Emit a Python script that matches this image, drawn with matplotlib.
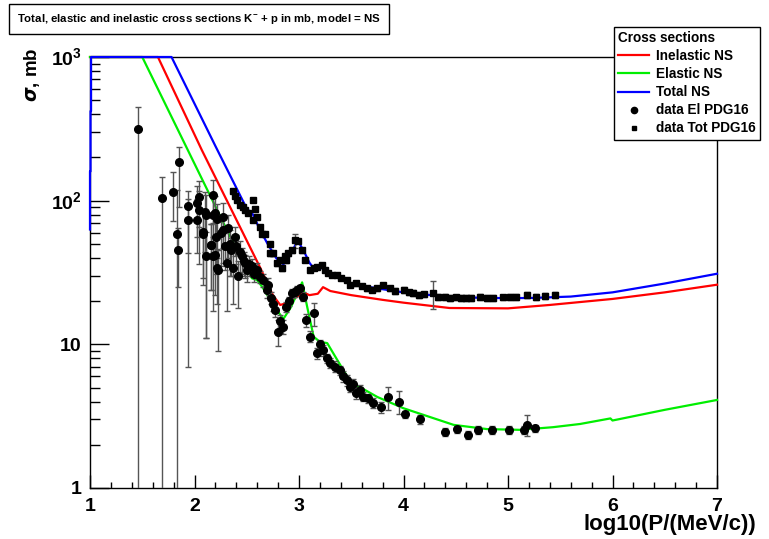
import numpy as np
import matplotlib
matplotlib.use("Agg")
import matplotlib.pyplot as plt
from matplotlib.lines import Line2D

plt.rcParams['font.family'] = ['Liberation Sans', 'DejaVu Sans']
plt.rcParams['font.weight'] = 'bold'
plt.rcParams['mathtext.fontset'] = 'custom'
plt.rcParams['mathtext.rm'] = 'Liberation Sans:bold'
plt.rcParams['mathtext.bf'] = 'Liberation Sans:bold'

# model curves (log10 P, sigma in mb)
total_x = [1.0, 1.0, 1.005, 1.005, 1.01, 1.01, 1.78, 2.2, 2.5, 2.56, 2.62, 2.7, 2.78, 2.85,
           2.92, 2.97, 3.0, 3.05, 3.1, 3.15, 3.22, 3.3, 3.5, 3.75, 4.0, 4.4, 4.8, 5.2, 5.6,
           6.0, 6.5, 7.0]
total_y = [63, 160, 160, 420, 420, 1000, 1000, 240, 88, 80, 64, 50, 40, 36,
           42, 50, 51, 44, 37, 33, 34, 30.5, 26.5, 24.5, 23, 21.5, 21, 21, 21.5,
           23, 26.5, 31]

inel_x = [1.0, 1.65, 2.07, 2.63, 2.75, 2.82, 2.9, 3.04, 3.1, 3.18, 3.23, 3.3, 3.5, 3.8,
          4.0, 4.44, 5.0, 5.4, 6.0, 6.5, 7.0]
inel_y = [1000, 1000, 225, 34, 22, 18.8, 19.5, 23, 22, 22.5, 25, 23.5, 22, 20.4,
          19.5, 17.9, 17.8, 18.8, 20.7, 23, 26]

el_x = [1.0, 1.5, 2.48, 2.55, 2.6, 2.65, 2.75, 2.85, 2.92, 3.0, 3.03, 3.08, 3.14, 3.2,
        3.27, 3.49, 3.75, 4.0, 4.48, 4.8, 5.11, 5.43, 5.69, 5.98, 6.0, 6.05, 6.5, 7.0]
el_y = [1000, 1000, 35, 28.8, 28, 25, 19, 15, 18, 24, 27, 18, 11.3, 10.4,
        10.2, 5.5, 4.3, 3.59, 2.75, 2.57, 2.54, 2.65, 2.79, 3.05, 2.95, 3.0, 3.5, 4.1]

# data El PDG16
del_x = [1.46, 1.69, 1.79, 1.835, 1.84, 1.855, 1.94, 1.94, 2.02, 2.02, 2.04, 2.04, 2.078,
         2.084, 2.10, 2.107, 2.107, 2.155, 2.158, 2.174, 2.174, 2.18, 2.196, 2.196, 2.21,
         2.212, 2.222, 2.22, 2.25, 2.276, 2.276, 2.29, 2.31, 2.32, 2.34, 2.35, 2.37, 2.39,
         2.40, 2.42, 2.435, 2.45, 2.47, 2.483, 2.50, 2.52, 2.547, 2.57, 2.595, 2.627, 2.66,
         2.69, 2.706, 2.73, 2.75, 2.77, 2.80, 2.82, 2.85, 2.88, 2.90, 2.93, 2.96, 2.98,
         3.01, 3.04, 3.07, 3.105, 3.14, 3.17, 3.2, 3.233, 3.27, 3.30, 3.34, 3.39, 3.42,
         3.456, 3.488, 3.52, 3.55, 3.58, 3.615, 3.66, 3.71, 3.78, 3.855, 3.96, 4.01, 4.16,
         4.40, 4.51, 4.615, 4.71, 4.85, 5.01, 5.15, 5.18, 5.26]
del_y = [314, 104, 114, 59, 45, 187, 92, 73, 96, 73, 106, 86, 59,
         61, 84, 79, 41, 49, 49, 79, 41, 110, 82, 42, 56,
         34, 33, 75, 60, 77, 62, 48, 37, 65, 50, 45, 34, 56,
         48, 30, 44, 41, 38, 37, 33, 36, 35, 31, 33, 29.6, 28,
         24, 26, 21, 19, 17.4, 12.2, 14.5, 13.3, 18.3, 20, 22.6, 23, 23.9,
         24.5, 21.5, 14.8, 11.3, 16.4, 8.7, 10, 9.1, 8.0, 7.4, 7.0, 6.6, 6.0,
         5.65, 5.08, 5.3, 4.57, 4.8, 4.33, 4.2, 3.9, 3.65, 4.27, 4.0, 3.26, 3.01,
         2.45, 2.56, 2.34, 2.54, 2.54, 2.54, 2.54, 2.75, 2.6]
del_lo = [313.5, 103.5, 42, 58.5, 20, 97, 85, 30, 40, 30, 40, 50, 30,
          35, 40, 68, 30, 25, 25, 40, 24, 40, 40, 20, 25,
          15, 24, 35, 25, 30, 25, 15, 20, 25, 20, 15, 15, 15,
          12, 12, 12, 10, 8, 8, 6, 6, 5, 4, 4, 3, 3,
          3, 3, 2, 2, 2, 2.5, 1.5, 1.5, 1.5, 1.5, 1.5, 1.5, 1.5,
          1.5, 1.5, 1.5, 1, 3, 0.8, 0.8, 0.8, 0.6, 0.6, 0.6, 0.5, 0.5,
          0.5, 0.4, 0.4, 0.4, 0.4, 0.3, 0.3, 0.3, 0.3, 0.8, 0.75, 0.2, 0.2,
          0.15, 0.15, 0.15, 0.15, 0.15, 0.15, 0.15, 0.45, 0.15]
del_hi = [133, 43, 44, 60, 20, 51, 25, 30, 30, 30, 31, 30, 25,
          25, 30, 30, 20, 20, 20, 25, 15, 30, 25, 15, 20,
          12, 12, 20, 20, 20, 15, 12, 12, 15, 12, 10, 10, 10,
          10, 8, 8, 6, 6, 5, 5, 5, 4, 4, 4, 3, 3,
          3, 3, 2, 2, 2, 2.5, 1.5, 1.5, 1.5, 1.5, 1.5, 1.5, 1.5,
          1.5, 1.5, 1.5, 1, 3, 0.8, 0.8, 0.8, 0.6, 0.6, 0.6, 0.5, 0.5,
          0.5, 0.4, 0.4, 0.4, 0.4, 0.3, 0.3, 0.3, 0.3, 0.8, 0.75, 0.2, 0.2,
          0.15, 0.15, 0.15, 0.15, 0.15, 0.15, 0.15, 0.45, 0.15]

# data Tot PDG16
dtot_x = [2.37, 2.39, 2.404, 2.435, 2.467, 2.48, 2.515, 2.56, 2.56, 2.58, 2.595, 2.627,
          2.643, 2.675, 2.72, 2.72, 2.754, 2.786, 2.818, 2.834, 2.866, 2.88, 2.897, 2.93,
          2.96, 2.99, 3.026, 3.057, 3.105, 3.14, 3.17, 3.217, 3.25, 3.28, 3.32, 3.36, 3.40,
          3.456, 3.488, 3.55, 3.60, 3.65, 3.70, 3.75, 3.807, 3.87, 3.92, 4.0, 4.05, 4.09,
          4.15, 4.2, 4.285, 4.33, 4.4, 4.445, 4.5, 4.55, 4.6, 4.65, 4.73, 4.8, 4.86, 4.95,
          5.02, 5.08, 5.18, 5.27, 5.35, 5.45]
dtot_y = [117, 108, 101, 94, 91, 86, 82, 101, 73, 88, 77, 66,
          59, 59, 50, 43, 43, 36.6, 38.6, 33.8, 41, 38.6, 43, 45,
          53, 52, 45, 38.6, 33, 34, 34.8, 35.7, 33, 31.2, 30.5, 30.4, 29,
          28, 25.9, 26.6, 25.5, 24.5, 24, 24.5, 25.9, 24.5, 23.5, 23.9, 23, 22.7,
          22, 22.3, 22.7, 21.5, 21.3, 20.9, 21.2, 21, 20.9, 21, 21.5, 21, 20.9, 21.2,
          21.5, 21.5, 22, 21.5, 21.8, 22]
dtot_err = [3, 3, 3, 3, 3, 3, 3, 3, 2, 3, 2, 2,
            2, 2, 1.5, 1.5, 1.5, 1.5, 1.5, 1.5, 1.5, 1.5, 1.5, 1.5,
            6, 1.5, 1.5, 1, 1, 1, 1, 1, 1, 1, 1, 1, 1,
            1, 1, 1, 1, 1, 1, 1, 1, 1, 1, 1, 1, 1,
            1, 1, 5, 1, 1, 1, 1, 1, 1, 1, 1, 1, 1, 1,
            1, 1, 1, 1, 1, 1]

x_ticks = [1, 2, 3, 4, 5, 6, 7]
y_ticks = [1, 10, 100, 1000]
y_ticklabels = ['1', '10', r'$10^{2}$', r'$10^{3}$']

fig = plt.figure(figsize=(7.69, 5.39), dpi=100)
ax = fig.add_axes([90/769, 1-488/539, 627/769, 431/539])

ax.plot(inel_x, inel_y, color='#ff0000', lw=1.6, clip_on=False, zorder=3)
ax.plot(el_x, el_y, color='#00ee00', lw=1.6, clip_on=False, zorder=3)
ax.plot(total_x, total_y, color='#0000ff', lw=1.6, clip_on=False, zorder=4)

ax.errorbar(del_x, del_y, yerr=[del_lo, del_hi], fmt='o', color='black', ms=5.5,
            ecolor='#555555', elinewidth=1.0, capsize=2, capthick=1.0, zorder=5)
ax.errorbar(dtot_x, dtot_y, yerr=dtot_err, fmt='s', color='black', ms=4.5,
            ecolor='#555555', elinewidth=1.0, capsize=2, capthick=1.0, zorder=5)

ax.set_yscale('log')
ax.set_xlim(1, 7)
ax.set_ylim(1, 1000)
ax.set_xticks(x_ticks)
ax.set_xticks(np.arange(1, 7.01, 0.2), minor=True)
ax.set_yticks(y_ticks)
ax.set_yticklabels(y_ticklabels)
ax.yaxis.set_minor_locator(matplotlib.ticker.LogLocator(base=10, subs=np.arange(2, 10)))
ax.yaxis.set_minor_formatter(matplotlib.ticker.NullFormatter())
ax.tick_params(axis='both', which='both', direction='in', top=False, right=False,
               labelsize=14, width=1)
ax.tick_params(axis='x', which='major', length=9.5, pad=7)
ax.tick_params(axis='x', which='minor', length=4.5)
ax.tick_params(axis='y', which='major', length=14, pad=6)
ax.tick_params(axis='y', which='minor', length=7)
for s in ax.spines.values():
    s.set_linewidth(1.0)

fig.text(0.984, 1-514/539, 'log10(P/(MeV/c))', ha='right', va='top', fontsize=16,
         fontweight='bold')
fig.text(0.042, 1-75/539, r'$\sigma$, mb', rotation=90, ha='center', va='center', fontsize=13.5,
         fontweight='bold')

fig.text(199/769, 1-19/539, r'Total, elastic and inelastic cross sections K$^{-}$ + p in mb, model = NS',
         ha='center', va='center', fontsize=8.2, fontweight='bold',
         bbox=dict(boxstyle='square,pad=0.7', facecolor='white', edgecolor='black', lw=1))

handles = [
    Line2D([], [], color='#ff0000', lw=1.6),
    Line2D([], [], color='#00ee00', lw=1.6),
    Line2D([], [], color='#0000ff', lw=1.6),
    Line2D([], [], ls='none', marker='o', color='black', ms=4.5),
    Line2D([], [], ls='none', marker='s', color='black', ms=3.5),
]
labels = ['Inelastic NS', 'Elastic NS', 'Total NS', 'data El PDG16', 'data Tot PDG16']
leg = fig.legend(handles, labels, title='Cross sections', loc='upper left',
                 bbox_to_anchor=(614/769, 1-27/539), fontsize=9.8, frameon=True,
                 fancybox=False, edgecolor='black', framealpha=1, borderpad=0.3,
                 labelspacing=0.3, handlelength=2.3, handletextpad=0.5,
                 borderaxespad=0, alignment='left',
                 title_fontproperties={'weight': 'bold', 'size': 9.8})
leg.get_frame().set_linewidth(1.0)
leg.set_zorder(10)

fig.savefig('out.png', dpi=100)
